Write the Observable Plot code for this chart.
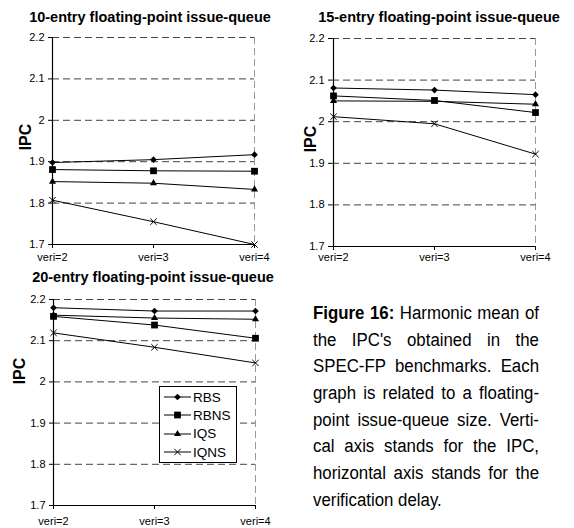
<!DOCTYPE html>
<html>
<head>
<meta charset="utf-8">
<script src="https://cdn.jsdelivr.net/npm/d3@7"></script>
<script src="https://cdn.jsdelivr.net/npm/@observablehq/plot@0.6"></script>
<style>
  html, body { margin: 0; padding: 0; background: white; }
  #root { position: relative; width: 574px; height: 528px; background: white; overflow: hidden; }
  .panel { position: absolute; }
  .panel svg { overflow: visible; }
  .title { position: absolute; width: 320px; text-align: center; font: bold 14.5px "Liberation Sans", Arial, sans-serif; white-space: nowrap; }
  .ipc { position: absolute; font: bold 16px "Liberation Sans", Arial, sans-serif; transform: translate(-50%, -50%) rotate(-90deg); white-space: nowrap; }
  .legend { position: absolute; border: 1px solid black; background: white; box-sizing: border-box; font: 13.5px "Liberation Sans", Arial, sans-serif; }
  .legend .row { position: absolute; left: 2px; height: 16px; display: flex; align-items: center; }
  .caption { position: absolute; font: 18px "Liberation Sans", Arial, sans-serif; transform-origin: 0 0; }
  .caption .ln { height: 26.7px; line-height: 26.7px; text-align: justify; text-align-last: justify; white-space: nowrap; }
  .caption .ln.last { text-align-last: left; }
</style>
</head>
<body>
<div id="root"></div>
<script>
// ---- data ----
const categories = ["veri=2", "veri=3", "veri=4"];
const series = ["RBS", "RBNS", "IQS", "IQNS"];
const yTicks = [1.7, 1.8, 1.9, 2.0, 2.1, 2.2];
const yTickLabels = ["1.7", "1.8", "1.9", "2", "2.1", "2.2"];

// 10-entry
const rbs10  = [1.898, 1.905, 1.917];
const rbns10 = [1.881, 1.878, 1.877];
const iqs10  = [1.852, 1.848, 1.833];
const iqns10 = [1.807, 1.755, 1.700];
// 15-entry
const rbs15  = [2.081, 2.076, 2.065];
const rbns15 = [2.062, 2.051, 2.022];
const iqs15  = [2.050, 2.049, 2.042];
const iqns15 = [2.012, 1.995, 1.922];
// 20-entry
const rbs20  = [2.180, 2.172, 2.172];
const rbns20 = [2.159, 2.138, 2.106];
const iqs20  = [2.162, 2.155, 2.152];
const iqns20 = [2.119, 2.084, 2.046];

const titles = ["10-entry floating-point issue-queue", "15-entry floating-point issue-queue", "20-entry floating-point issue-queue"];
const captionLines = [
  ["Figure 16:", " Harmonic mean of"],
  ["", "the IPC's obtained in the"],
  ["", "SPEC-FP benchmarks. Each"],
  ["", "graph is related to a floating-"],
  ["", "point issue-queue size. Verti-"],
  ["", "cal axis stands for the IPC,"],
  ["", "horizontal axis stands for the"],
  ["", "verification delay."]
];

const symbolNames = {RBS: "diamond2", RBNS: "square2", IQS: "triangle2", IQNS: "times"};
const symbolR = {RBS: 3.0, RBNS: 4.3, IQS: 3.4, IQNS: 3.0};
const d3Symbols = {RBS: d3.symbolDiamond2, RBNS: d3.symbolSquare2, IQS: d3.symbolTriangle2, IQNS: d3.symbolTimes};

const FONT = '"Liberation Sans", Arial, sans-serif';

function toRows(values) {
  return series.flatMap((s, i) => categories.map((c, j) => ({series: s, x: c, y: values[i][j]})));
}

function panel(values, o) {
  const data = toRows(values);
  const dots = series.map(s => {
    const sub = data.filter(d => d.series === s);
    return s === "IQNS"
      ? Plot.dot(sub, {x: "x", y: "y", symbol: symbolNames[s], r: symbolR[s], stroke: "black", strokeWidth: 1, fill: "none"})
      : Plot.dot(sub, {x: "x", y: "y", symbol: symbolNames[s], r: symbolR[s], fill: "black", stroke: "none"});
  });
  return Plot.plot({
    width: o.width, height: o.height,
    marginLeft: o.ml, marginRight: o.mr, marginTop: o.mt, marginBottom: o.mb,
    style: {fontFamily: FONT, fontSize: "11px", color: "black", background: "transparent", overflow: "visible"},
    x: {type: "point", domain: categories, padding: 0},
    y: {domain: [1.7, 2.2]},
    marks: [
      Plot.ruleY(yTicks.slice(1), {stroke: "#444", strokeDasharray: "7,4", strokeWidth: 1}),
      Plot.ruleX([categories[2]], {stroke: "#999", strokeDasharray: "7,4", strokeWidth: 1}),
      Plot.ruleX([categories[0]], {stroke: "black", strokeWidth: 1.2}),
      Plot.ruleY([1.7], {stroke: "black", strokeWidth: 1.2}),
      Plot.axisY({ticks: yTicks, tickFormat: d => yTickLabels[yTicks.indexOf(d)], tickSize: 4, tickPadding: 4, label: null}),
      Plot.axisX({tickSize: 4, tickPadding: o.xPad, label: null}),
      Plot.line(data, {x: "x", y: "y", z: "series", stroke: "black", strokeWidth: 1}),
      ...dots
    ]
  });
}

const root = document.getElementById("root");

function place(el, left, top) {
  const d = document.createElement("div");
  d.className = "panel";
  d.style.left = left + "px";
  d.style.top = top + "px";
  d.appendChild(el);
  root.appendChild(d);
}

place(panel([rbs10, rbns10, iqs10, iqns10], {width: 290, height: 270, ml: 52, mr: 36, mt: 37, mb: 26, xPad: 5}), 0, 0);
place(panel([rbs15, rbns15, iqs15, iqns15], {width: 289, height: 272, ml: 47, mr: 39, mt: 38, mb: 26, xPad: 3}), 285, 0);
place(panel([rbs20, rbns20, iqs20, iqns20], {width: 290, height: 266, ml: 53, mr: 35, mt: 37, mb: 23, xPad: 8}), 0, 262);

// titles
[[150, 9], [439, 9], [153, 269]].forEach(([cx, top], i) => {
  const t = document.createElement("div");
  t.className = "title";
  t.style.left = (cx - 160) + "px";
  t.style.top = top + "px";
  t.textContent = titles[i];
  root.appendChild(t);
});

// IPC axis titles
[[26, 137], [311, 139], [20, 371]].forEach(([x, y]) => {
  const t = document.createElement("div");
  t.className = "ipc";
  t.style.left = x + "px";
  t.style.top = y + "px";
  t.textContent = "IPC";
  root.appendChild(t);
});

// legend (panel 3)
const lg = document.createElement("div");
lg.className = "legend";
Object.assign(lg.style, {left: "159px", top: "386px", width: "78px", height: "77px"});
series.forEach((s, i) => {
  const row = document.createElement("div");
  row.className = "row";
  row.style.top = (2 + i * 18.4) + "px";
  const svg = d3.create("svg").attr("width", 30).attr("height", 16);
  svg.append("line").attr("x1", 2).attr("x2", 29).attr("y1", 8).attr("y2", 8).attr("stroke", "black").attr("stroke-width", 1);
  const r = symbolR[s];
  svg.append("path")
    .attr("transform", "translate(15.5,8)")
    .attr("d", d3.symbol(d3Symbols[s], Math.PI * r * r)())
    .attr("fill", s === "IQNS" ? "none" : "black")
    .attr("stroke", s === "IQNS" ? "black" : "none");
  row.appendChild(svg.node());
  const lab = document.createElement("span");
  lab.textContent = s;
  lab.style.marginLeft = "1px";
  row.appendChild(lab);
  lg.appendChild(row);
});
root.appendChild(lg);

// caption (slightly condensed by horizontal scaling to mimic the narrow face)
const SX = 0.935;
const cap = document.createElement("div");
cap.className = "caption";
Object.assign(cap.style, {left: "313px", top: "300px", width: (226 / SX) + "px", transform: `scaleX(${SX})`});
captionLines.forEach(([b, rest], i) => {
  const ln = document.createElement("div");
  ln.className = "ln" + (i === captionLines.length - 1 ? " last" : "");
  if (b) {
    const bb = document.createElement("b");
    bb.textContent = b;
    ln.appendChild(bb);
  }
  ln.appendChild(document.createTextNode(rest));
  cap.appendChild(ln);
});
root.appendChild(cap);
</script>
</body>
</html>
